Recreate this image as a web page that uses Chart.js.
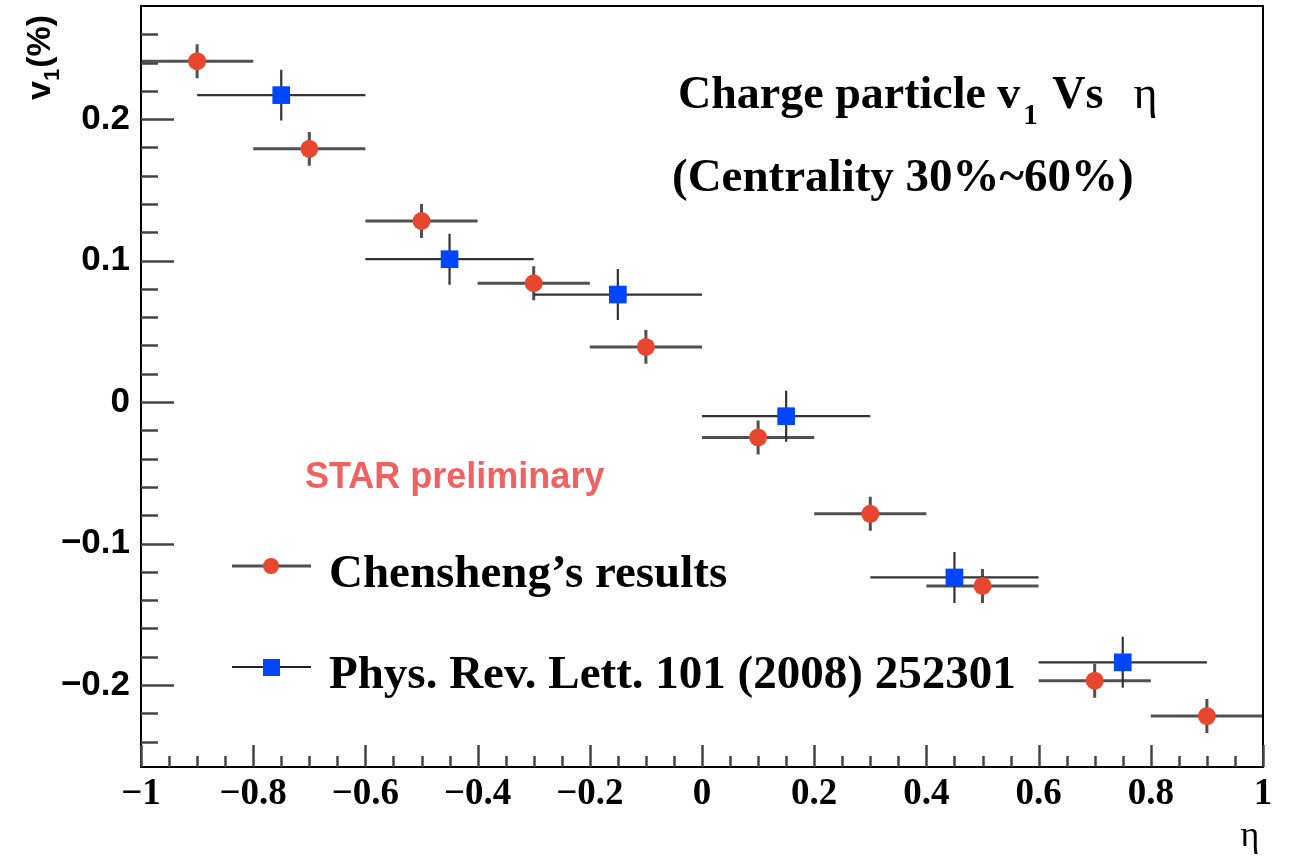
<!DOCTYPE html>
<html>
<head>
<meta charset="utf-8">
<script src="https://cdn.jsdelivr.net/npm/chart.js@4/dist/chart.umd.min.js"></script>
<style>
  html, body { margin: 0; padding: 0; background: #fff; }
  #wrap { position: relative; width: 1291px; height: 860px; }
</style>
</head>
<body>
<div id="wrap"><canvas id="c" width="1291" height="860"></canvas></div>
<script>
// Chensheng's results (red circles)
const etaRed  = [-0.9, -0.7, -0.5, -0.3, -0.1, 0.1, 0.3, 0.5, 0.7, 0.9]
const v1Red   = [0.241, 0.179, 0.128, 0.084, 0.039, -0.025, -0.079, -0.130, -0.197, -0.222]
const errRedY = [0.012, 0.012, 0.012, 0.012, 0.012, 0.012, 0.012, 0.012, 0.012, 0.012]
const errRedX = [0.1, 0.1, 0.1, 0.1, 0.1, 0.1, 0.1, 0.1, 0.1, 0.1]

// Phys. Rev. Lett. 101 (2008) 252301 (blue squares)
const etaBlue  = [-0.75, -0.45, -0.15, 0.15, 0.45, 0.75]
const v1Blue   = [0.217, 0.101, 0.076, -0.010, -0.124, -0.184]
const errBlueY = [0.018, 0.018, 0.018, 0.018, 0.018, 0.018]
const errBlueX = [0.15, 0.15, 0.15, 0.15, 0.15, 0.15]

const LABELS = ['Chensheng\u2019s results', 'Phys. Rev. Lett. 101 (2008) 252301']
const RED = '#e8462f'
const BLUE = '#0046ff'

const SERIF = '"Liberation Serif", "Times New Roman", serif'
const SANS  = '"Liberation Sans", Arial, sans-serif'

function fmt(v) {
  const r = Math.round(v * 10) / 10
  return r < 0 ? '\u2212' + String(-r) : String(r)
}

// error bars drawn under the markers
const errorBars = {
  id: 'errorBars',
  beforeDatasetsDraw(chart) {
    const { ctx, scales: { x, y } } = chart
    const sets = [
      { xs: etaRed,  ys: v1Red,  ex: errRedX,  ey: errRedY,  w: 3, c: '#505050' },
      { xs: etaBlue, ys: v1Blue, ex: errBlueX, ey: errBlueY, w: 2.2, c: '#333333' },
    ]
    ctx.save()
    sets.forEach(s => {
      ctx.strokeStyle = s.c
      ctx.lineWidth = s.w
      s.xs.forEach((xv, i) => {
        const px = x.getPixelForValue(xv), py = y.getPixelForValue(s.ys[i])
        ctx.beginPath()
        ctx.moveTo(x.getPixelForValue(xv - s.ex[i]), py)
        ctx.lineTo(x.getPixelForValue(xv + s.ex[i]), py)
        ctx.moveTo(px, y.getPixelForValue(s.ys[i] - s.ey[i]))
        ctx.lineTo(px, y.getPixelForValue(s.ys[i] + s.ey[i]))
        ctx.stroke()
      })
    })
    ctx.restore()
  }
}

// ROOT-style frame, inward ticks, legend and texts
const decor = {
  id: 'decor',
  afterDraw(chart) {
    const { ctx, chartArea: a, scales: { x, y } } = chart
    ctx.save()
    ctx.strokeStyle = '#000'
    ctx.lineWidth = 2
    ctx.strokeRect(a.left, a.top, a.right - a.left, a.bottom - a.top)

    // x ticks
    ctx.strokeStyle = '#444'
    ctx.lineWidth = 2.5
    for (let k = -20; k <= 20; k++) {
      const v = k * 0.05
      const px = Math.round(x.getPixelForValue(v)) + 0.5
      const len = k % 4 === 0 ? 22 : 11
      ctx.beginPath(); ctx.moveTo(px, a.bottom); ctx.lineTo(px, a.bottom - len); ctx.stroke()
    }
    // y ticks
    for (let k = -12; k <= 13; k++) {
      const v = k * 0.02
      const py = Math.round(y.getPixelForValue(v)) + 0.5
      const len = k % 5 === 0 ? 33 : 17
      ctx.beginPath(); ctx.moveTo(a.left, py); ctx.lineTo(a.left + len, py); ctx.stroke()
    }

    // legend
    const legend = [
      { y: 566, c: RED,  style: 'circle', lc: '#505050', lw: 3, text: LABELS[0] },
      { y: 667, c: BLUE, style: 'rect',   lc: '#222',    lw: 2, text: LABELS[1] },
    ]
    legend.forEach(l => {
      ctx.strokeStyle = l.lc
      ctx.lineWidth = l.lw
      ctx.beginPath(); ctx.moveTo(232, l.y); ctx.lineTo(311, l.y); ctx.stroke()
      ctx.fillStyle = l.c
      if (l.style === 'circle') { ctx.beginPath(); ctx.arc(271, l.y, 8, 0, Math.PI * 2); ctx.fill() }
      else ctx.fillRect(263, l.y - 8, 17, 17)
      ctx.fillStyle = '#000'
      ctx.font = 'bold 47px ' + SERIF
      ctx.textBaseline = 'alphabetic'
      ctx.fillText(l.text, 329, l.y + 21)
    })

    // title block
    ctx.fillStyle = '#000'
    ctx.font = 'bold 46px ' + SERIF
    let tx = 678
    ctx.fillText('Charge particle v', tx, 108)
    tx += ctx.measureText('Charge particle v').width + 3
    ctx.font = 'bold 29px ' + SERIF
    ctx.fillText('1', tx, 124)
    tx += ctx.measureText('1').width + 3
    ctx.font = 'bold 46px ' + SERIF
    ctx.fillText(' Vs', tx, 108)
    tx += ctx.measureText(' Vs').width + 30
    ctx.font = '46px ' + SERIF
    ctx.fillText('\u03b7', tx, 108)
    ctx.font = 'bold 47px ' + SERIF
    ctx.fillText('(Centrality 30%~60%)', 672, 191)

    // STAR preliminary
    ctx.fillStyle = '#f06262'
    ctx.font = 'bold 36px ' + SANS
    ctx.textBaseline = 'middle'
    ctx.fillText('STAR preliminary', 305, 478)

    // axis titles
    ctx.fillStyle = '#000'
    ctx.textBaseline = 'alphabetic'
    ctx.textAlign = 'center'
    ctx.font = '36px ' + SERIF
    ctx.fillText('\u03b7', 1250, 846)
    ctx.textAlign = 'left'
    ctx.translate(50, 100)
    ctx.rotate(-Math.PI / 2)
    ctx.font = 'bold 34px ' + SANS
    ctx.fillText('v', 0, 0)
    let ox = ctx.measureText('v').width
    ctx.font = 'bold 22px ' + SANS
    ctx.fillText('1', ox, 9)
    ox += ctx.measureText('1').width + 1
    ctx.font = 'bold 34px ' + SANS
    ctx.fillText('(%)', ox, 0)
    ctx.restore()
  }
}

const data = {
  datasets: [
    {
      label: LABELS[0],
      data: etaRed.map((e, i) => ({ x: e, y: v1Red[i] })),
      pointStyle: 'circle',
      pointRadius: 9,
      backgroundColor: RED,
      borderColor: RED,
      borderWidth: 0,
      showLine: false,
    },
    {
      label: LABELS[1],
      data: etaBlue.map((e, i) => ({ x: e, y: v1Blue[i] })),
      pointStyle: 'rect',
      pointRadius: 12.5,
      backgroundColor: BLUE,
      borderColor: BLUE,
      borderWidth: 0,
      showLine: false,
    },
  ],
}

new Chart(document.getElementById('c'), {
  type: 'scatter',
  data,
  options: {
    responsive: false,
    animation: false,
    events: [],
    layout: { autoPadding: false, padding: { left: 0, top: 6, right: 28, bottom: 0 } },
    plugins: { legend: { display: false }, tooltip: { enabled: false } },
    scales: {
      x: {
        type: 'linear', min: -1, max: 1,
        grid: { display: false, drawTicks: false }, border: { display: false },
        ticks: {
          stepSize: 0.2, autoSkip: false, maxRotation: 0, padding: 5, color: '#000',
          font: { family: SERIF, weight: 'bold', size: 37 },
          callback: v => fmt(v),
        },
        afterFit: s => { s.height = 93; s.paddingLeft = 0; s.paddingRight = 0 },
      },
      y: {
        type: 'linear', min: -0.258, max: 0.28,
        grid: { display: false, drawTicks: false }, border: { display: false },
        ticks: {
          stepSize: 0.1, includeBounds: false, padding: 11, color: '#000',
          font: { family: SANS, weight: 'bold', size: 35 },
          callback: v => fmt(v),
        },
        afterFit: s => { s.width = 141; s.paddingTop = 0; s.paddingBottom = 0 },
      },
    },
  },
  plugins: [errorBars, decor],
})
</script>
</body>
</html>
